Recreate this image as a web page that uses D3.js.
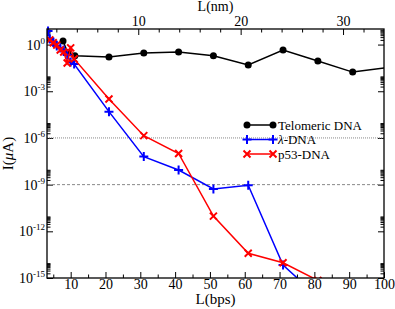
<!DOCTYPE html>
<html>
<head>
<meta charset="utf-8">
<script src="https://cdn.jsdelivr.net/npm/d3@7"></script>
<style>
    body { margin: 0; background: #fff; }
    svg { font-family: "Liberation Serif", "Times New Roman", serif; }
</style>
</head>
<body>
<svg id="chart" width="395" height="309"></svg>
<script>
/* series: length in base pairs, current in microampere */
const telomericBps = [7.8, 9.2, 11.2, 21, 31, 41, 51, 61, 71, 81, 91, 101];
const telomericI = [1.7, 0.29, 0.19, 0.16, 0.29, 0.33, 0.19, 0.049, 0.45, 0.089, 0.017, 0.034];

const lambdaBps = [3.5, 4, 5, 6, 7, 8, 9, 10, 11, 21, 31, 41, 51, 61, 71, 81];
const lambdaI = [7.4, 2.3, 1.5, 0.8, 0.6, 0.45, 0.21, 0.076, 0.056, 4.9e-5, 6.3e-8, 8.7e-9, 5.3e-10, 9.1e-10, 6.9e-15, 6e-17];

const p53Bps = [4, 5, 6, 7, 8, 9, 10, 11, 21, 31, 41, 51, 61, 71, 81];
const p53I = [2.0, 1.3, 0.93, 0.45, 0.33, 0.066, 0.61, 0.12, 3.2e-4, 1.4e-6, 1.0e-7, 9.5e-12, 3.9e-14, 9.5e-15, 7e-16];

/* tick labels */
const bpsTicks = [10, 20, 30, 40, 50, 60, 70, 80, 90, 100];
const nmTicks = [10, 20, 30];
const yExponents = [0, -3, -6, -9, -12, -15];
const legendNames = ["Telomeric DNA", "\u03bb-DNA", "p53-DNA"];

/* reference levels drawn across the plot */
const dottedLevel = 1e-6;
const dashedLevel = 1e-9;

const width = 395, height = 309;
const margin = { left: 47, right: 11, top: 29, bottom: 31 };
const nmPerBp = 0.34;

const svg = d3.select("#chart");

/* scales */
const x = d3.scaleLinear().domain([3.2, 100]).range([margin.left, width - margin.right]);
const xNm = d3.scaleLinear().domain([3.2 * nmPerBp, 100 * nmPerBp]).range(x.range());
const y = d3.scaleLog().domain([1e-15, 1e1]).range([height - margin.bottom, margin.top]);

const plotLeft = margin.left, plotRight = width - margin.right;
const plotTop = margin.top, plotBottom = height - margin.bottom;

/* minor ticks: 2..9 times each labelled decade */
const yMinor = [];
yExponents.forEach(e => { for (let k = 2; k <= 9; k++) yMinor.push(k * Math.pow(10, e)); });
const bpsMinor = d3.range(5, 100, 10);
const nmMinor = d3.range(2, 34, 2).filter(v => v % 10 !== 0);

const yMajor = yExponents.map(e => Math.pow(10, e));

/* helper to style axis groups */
function tidy(g) {
    g.select(".domain").remove();
    g.selectAll("line").attr("stroke", "#000").attr("stroke-width", 1);
    g.selectAll("text").attr("font-size", 14).attr("fill", "#000")
        .attr("font-family", "\"Liberation Serif\", \"Times New Roman\", serif");
}

/* bottom axis */
svg.append("g").attr("transform", `translate(0,${plotBottom})`)
    .call(d3.axisBottom(x).tickValues(bpsTicks).tickFormat(d3.format("d")).tickSizeInner(-6).tickSizeOuter(0).tickPadding(1))
    .call(tidy);
svg.append("g").attr("transform", `translate(0,${plotBottom})`)
    .call(d3.axisBottom(x).tickValues(bpsMinor).tickFormat("").tickSizeInner(-3.5).tickSizeOuter(0))
    .call(tidy);

/* top axis in nm */
svg.append("g").attr("transform", `translate(0,${plotTop})`)
    .call(d3.axisTop(xNm).tickValues(nmTicks).tickFormat(d3.format("d")).tickSizeInner(-6).tickSizeOuter(0).tickPadding(3))
    .call(tidy);
svg.append("g").attr("transform", `translate(0,${plotTop})`)
    .call(d3.axisTop(xNm).tickValues(nmMinor).tickFormat("").tickSizeInner(-3.5).tickSizeOuter(0))
    .call(tidy);

/* left and right axes, ticks pointing inwards */
[[plotLeft, d3.axisLeft], [plotRight, d3.axisRight]].forEach(([pos, axis]) => {
    svg.append("g").attr("transform", `translate(${pos},0)`)
        .call(axis(y).tickValues(yMajor).tickFormat("").tickSizeInner(-6).tickSizeOuter(0))
        .call(tidy);
    svg.append("g").attr("transform", `translate(${pos},0)`)
        .call(axis(y).tickValues(yMinor).tickFormat("").tickSizeInner(-3.5).tickSizeOuter(0))
        .call(tidy);
});

/* y tick labels as 10 with a superscript */
const yLab = svg.append("g").selectAll("text").data(yExponents).join("text")
    .attr("x", plotLeft - 2)
    .attr("y", d => y(Math.pow(10, d)) + 5)
    .attr("text-anchor", "end")
    .attr("font-size", 14);
yLab.append("tspan").text("10");
yLab.append("tspan").attr("dy", -6).attr("font-size", 9).text(d => d === 0 ? "0" : "-" + Math.abs(d));

/* reference lines */
svg.append("line").attr("x1", plotLeft).attr("x2", plotRight)
    .attr("y1", y(dottedLevel)).attr("y2", y(dottedLevel))
    .attr("stroke", "#888").attr("stroke-width", 1).attr("stroke-dasharray", "1,1");
svg.append("line").attr("x1", plotLeft).attr("x2", plotRight)
    .attr("y1", y(dashedLevel)).attr("y2", y(dashedLevel))
    .attr("stroke", "#888").attr("stroke-width", 1).attr("stroke-dasharray", "3,2");

/* clip path for the data */
svg.append("clipPath").attr("id", "plot")
    .append("rect").attr("x", plotLeft).attr("y", plotTop - 4).attr("width", plotRight - plotLeft).attr("height", plotBottom - plotTop + 4);

const series = [
    { bps: telomericBps, vals: telomericI, color: "#000", marker: "circle" },
    { bps: lambdaBps, vals: lambdaI, color: "#0000ff", marker: "plus" },
    { bps: p53Bps, vals: p53I, color: "#ff0000", marker: "cross" }
];

const line = d3.line().x(d => x(d[0])).y(d => y(d[1]));

function drawMarker(g, kind, color) {
    if (kind === "circle") {
        g.append("circle").attr("r", 3.5).attr("fill", color);
    } else if (kind === "plus") {
        g.append("path").attr("d", "M-4.5,0H4.5M0,-4.5V4.5").attr("stroke", color).attr("stroke-width", 2).attr("fill", "none");
    } else {
        g.append("path").attr("d", "M-3.5,-3.5L3.5,3.5M-3.5,3.5L3.5,-3.5").attr("stroke", color).attr("stroke-width", 2).attr("fill", "none");
    }
}

const plot = svg.append("g").attr("clip-path", "url(#plot)");
series.forEach(s => {
    const pts = s.bps.map((b, i) => [b, s.vals[i]]);
    plot.append("path").datum(pts)
        .attr("d", line)
        .attr("fill", "none")
        .attr("stroke", s.color)
        .attr("stroke-width", 1.5);
    plot.selectAll(null).data(pts).join("g")
        .attr("transform", d => `translate(${x(d[0])},${y(d[1])})`)
        .each(function () { drawMarker(d3.select(this), s.marker, s.color); });
});

/* frame */
svg.append("rect").attr("x", plotLeft).attr("y", plotTop).attr("width", plotRight - plotLeft).attr("height", plotBottom - plotTop)
    .attr("fill", "none").attr("stroke", "#000").attr("stroke-width", 1.3);

/* legend */
const legend = svg.append("g").selectAll("g").data(series).join("g")
    .attr("transform", (d, i) => `translate(247,${[125, 139.5, 154][i]})`);
legend.append("line").attr("x1", 0).attr("x2", 26)
    .attr("stroke", d => d.color).attr("stroke-width", 1.5);
legend.each(function (d) {
    drawMarker(d3.select(this).append("g"), d.marker, d.color);
    drawMarker(d3.select(this).append("g").attr("transform", "translate(26,0)"), d.marker, d.color);
});
legend.append("text").attr("x", 31).attr("y", 4.5).attr("font-size", 13)
    .each(function (d, i) {
        const t = d3.select(this);
        if (i === 1) {
            t.append("tspan").attr("font-style", "italic").text("\u03bb");
            t.append("tspan").text("-DNA");
        } else {
            t.text(legendNames[i]);
        }
    });

/* axis titles */
svg.append("text").attr("x", (plotLeft + plotRight) / 2).attr("y", 11).attr("text-anchor", "middle")
    .attr("font-size", 14).text("L(nm)");
svg.append("text").attr("x", (plotLeft + plotRight) / 2).attr("y", 304).attr("text-anchor", "middle")
    .attr("font-size", 15).text("L(bps)");
const yTitle = svg.append("text").attr("transform", `translate(13,${(plotTop + plotBottom) / 2}) rotate(-90)`)
    .attr("text-anchor", "middle").attr("font-size", 15);
yTitle.append("tspan").text("I(");
yTitle.append("tspan").attr("font-style", "italic").text("\u03bc");
yTitle.append("tspan").text("A)");
</script>
</body>
</html>
